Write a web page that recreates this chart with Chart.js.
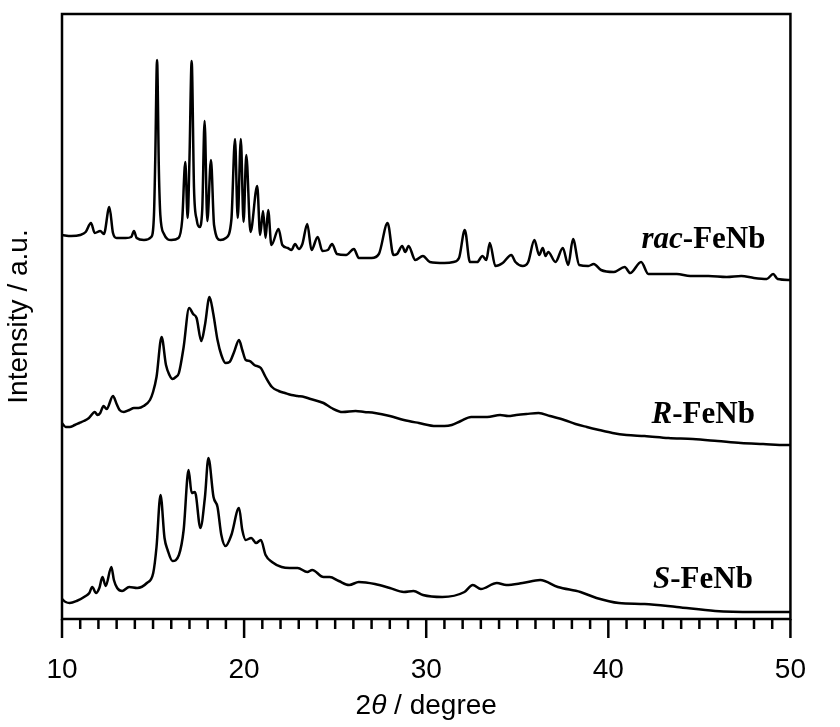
<!DOCTYPE html>
<html>
<head>
<meta charset="utf-8">
<script src="https://cdn.jsdelivr.net/npm/chart.js@4.4.0/dist/chart.umd.min.js"></script>
<style>
  html, body { margin: 0; padding: 0; background: #fff; }
  #wrap { width: 840px; height: 727px; }
</style>
</head>
<body>
<div id="wrap"><canvas id="xrdChart" width="840" height="727"></canvas></div>
<script>
// XRD patterns, values (arbitrary units, curves already stacked)
const xTicks = [10, 20, 30, 40, 50];

const racTheta = [10.0, 10.5, 11.0, 11.3, 11.59, 11.8, 12.1, 12.3, 12.6, 12.8, 13.0, 13.5, 13.8, 13.95, 14.1, 14.5, 14.9, 15.05, 15.12, 15.22, 15.32, 15.4, 15.6, 16.0, 16.4, 16.6, 16.77, 16.9, 17.0, 17.12, 17.25, 17.4, 17.55, 17.7, 17.83, 17.98, 18.18, 18.35, 18.7, 19.0, 19.3, 19.5, 19.65, 19.82, 19.97, 20.12, 20.35, 20.72, 20.88, 21.04, 21.18, 21.32, 21.5, 21.89, 22.1, 22.4, 22.6, 22.8, 23.0, 23.2, 23.47, 23.7, 24.04, 24.3, 24.6, 24.83, 25.1, 25.6, 26.03, 26.3, 27.0, 27.4, 27.88, 28.2, 28.4, 28.68, 28.85, 29.03, 29.4, 29.82, 30.2, 31.0, 31.5, 31.8, 32.12, 32.4, 32.8, 33.09, 33.3, 33.49, 33.8, 34.2, 34.67, 34.9, 35.3, 35.6, 35.94, 36.2, 36.4, 36.55, 36.7, 37.1, 37.5, 37.8, 38.06, 38.4, 38.9, 39.2, 39.6, 40.3, 40.9, 41.2, 41.8, 42.2, 43.0, 43.76, 44.5, 45.5, 46.5, 47.3, 48.0, 48.7, 49.05, 49.3, 50.0];
const racIntensity = [384, 383, 384, 387, 396, 386, 388, 385, 412, 386, 381, 381, 382, 388, 381, 379, 382, 404, 459, 559, 449, 404, 385, 379, 381, 399, 457, 401, 460, 558, 430, 399, 392, 409, 498, 398, 459, 394, 379, 381, 399, 480, 401, 480, 397, 464, 387, 433, 384, 408, 381, 409, 374, 390, 374, 371, 369, 375, 370, 375, 395, 369, 382, 368, 369, 375, 365, 364, 370, 361, 361, 365, 396, 364, 365, 373, 367, 373, 359, 363, 357, 356, 357, 361, 389, 357, 357, 363, 359, 376, 353, 356, 364, 357, 353, 357, 379, 364, 371, 363, 367, 357, 371, 354, 380, 354, 353, 355, 349, 347, 352, 346, 357, 345, 345, 345, 343, 343, 342, 343, 341, 340, 345, 340, 339];

const rTheta = [10.0, 10.2, 10.42, 10.7, 10.95, 11.2, 11.48, 11.8, 11.95, 12.1, 12.28, 12.45, 12.8, 13.0, 13.16, 13.4, 13.7, 13.95, 14.2, 14.48, 14.83, 15.0, 15.19, 15.47, 15.71, 15.9, 16.07, 16.25, 16.42, 16.68, 16.98, 17.2, 17.39, 17.65, 17.85, 18.1, 18.3, 18.54, 18.75, 18.98, 19.2, 19.45, 19.72, 19.9, 20.09, 20.3, 20.56, 20.92, 21.18, 21.53, 21.9, 22.24, 22.6, 22.94, 23.3, 23.65, 24.36, 24.8, 25.41, 26.12, 26.6, 27.18, 28.0, 28.77, 29.6, 30.53, 31.0, 31.4, 31.9, 32.47, 32.9, 33.35, 34.06, 34.5, 34.94, 35.5, 36.17, 36.8, 37.58, 38.2, 38.82, 39.5, 40.23, 41.0, 41.99, 43.3, 44.64, 46.0, 47.28, 48.5, 49.75, 50.0];
const rIntensity = [196, 192, 192, 194, 196, 198, 201, 207, 204, 206, 213, 210, 223, 215, 209, 207, 209, 211, 211, 213, 219, 227, 242, 282, 254, 244, 240, 242, 246, 272, 311, 305, 301, 278, 294, 322, 306, 279, 264, 256, 257, 267, 279, 269, 259, 258, 254, 251, 242, 232, 228, 226, 224, 223, 222, 220, 216, 211, 207, 208, 207, 206, 203, 199, 196, 193, 193, 194, 198, 202, 202, 202, 204, 203, 204, 205, 206, 203, 199, 195, 192, 189, 186, 184, 183, 181, 180, 178, 176, 175, 174, 174];

const sTheta = [10.0, 10.2, 10.42, 10.8, 11.3, 11.5, 11.66, 11.87, 12.05, 12.22, 12.4, 12.71, 12.85, 13.03, 13.3, 13.69, 14.13, 14.66, 15.01, 15.19, 15.41, 15.63, 15.8, 16.07, 16.42, 16.68, 16.95, 17.12, 17.3, 17.6, 17.85, 18.04, 18.32, 18.54, 18.75, 18.98, 19.3, 19.72, 19.9, 20.09, 20.39, 20.66, 20.92, 21.18, 21.53, 22.06, 22.5, 22.94, 23.47, 23.74, 24.36, 24.7, 25.2, 25.77, 26.3, 27.18, 28.0, 28.77, 29.3, 29.82, 30.88, 32.1, 32.56, 33.0, 33.88, 34.4, 35.29, 36.26, 37.23, 38.47, 39.35, 40.58, 41.99, 43.76, 45.87, 47.99, 49.75, 50.0];
const sIntensity = [20, 17, 16, 18, 23, 26, 32, 26, 31, 42, 33, 52, 39, 31, 28, 32, 31, 36, 46, 72, 124, 81, 69, 58, 64, 89, 149, 126, 127, 91, 122, 161, 122, 112, 84, 73, 84, 111, 89, 79, 81, 76, 79, 64, 57, 52, 51, 51, 47, 49, 42, 42, 38, 34, 37, 35, 31, 27, 28, 24, 22, 27, 34, 30, 36, 34, 36, 39, 32, 27, 21, 16, 15, 12, 8, 7, 7, 7];

const seriesNames = [['rac', '-FeNb'], ['R', '-FeNb'], ['S', '-FeNb']];

const sansFont = '"Liberation Sans", Arial, sans-serif';
const serifFont = '"Liberation Serif", "Times New Roman", serif';

function toPoints(xs, ys) {
  return xs.map((x, i) => ({ x: x, y: ys[i] }));
}

// frame, minor/major ticks, x title with italic theta, curve labels
const decorations = {
  id: 'decorations',
  afterDraw(chart) {
    const { ctx, chartArea: a, scales: { x, y } } = chart;
    ctx.save();
    ctx.strokeStyle = '#000';
    ctx.lineWidth = 2.5;
    ctx.strokeRect(a.left, a.top, a.right - a.left, a.bottom - a.top);

    for (let v = x.min; v <= x.max; v++) {
      const px = x.getPixelForValue(v);
      const len = xTicks.includes(v) ? 19 : 10;
      ctx.beginPath();
      ctx.moveTo(px, a.bottom);
      ctx.lineTo(px, a.bottom + len);
      ctx.stroke();
    }

    // x axis title: 2θ / degree
    ctx.fillStyle = '#000';
    ctx.textBaseline = 'alphabetic';
    ctx.textAlign = 'left';
    const parts = [['2', ''], ['θ', 'italic '], [' / degree', '']];
    let total = 0;
    parts.forEach(p => {
      ctx.font = p[1] + '28px ' + sansFont;
      total += ctx.measureText(p[0]).width;
    });
    let cx = (a.left + a.right) / 2 - total / 2;
    parts.forEach(p => {
      ctx.font = p[1] + '28px ' + sansFont;
      ctx.fillText(p[0], cx, 714);
      cx += ctx.measureText(p[0]).width;
    });

    // curve labels, right aligned
    const anchors = [[48.63, 371], [48.05, 196], [47.94, 31]];
    seriesNames.forEach((name, i) => {
      const right = x.getPixelForValue(anchors[i][0]);
      const base = y.getPixelForValue(anchors[i][1]);
      ctx.font = 'italic bold 31px ' + serifFont;
      const w1 = ctx.measureText(name[0]).width;
      ctx.font = 'bold 31px ' + serifFont;
      const w2 = ctx.measureText(name[1]).width;
      ctx.font = 'italic bold 31px ' + serifFont;
      ctx.fillText(name[0], right - w1 - w2, base);
      ctx.font = 'bold 31px ' + serifFont;
      ctx.fillText(name[1], right - w2, base);
    });
    ctx.restore();
  }
};

const lineStyle = {
  borderColor: '#000',
  borderWidth: 2.5,
  pointRadius: 0,
  fill: false,
  cubicInterpolationMode: 'monotone'
};

new Chart(document.getElementById('xrdChart'), {
  type: 'line',
  data: {
    datasets: [
      Object.assign({ label: 'rac-FeNb', data: toPoints(racTheta, racIntensity) }, lineStyle),
      Object.assign({ label: 'R-FeNb', data: toPoints(rTheta, rIntensity) }, lineStyle),
      Object.assign({ label: 'S-FeNb', data: toPoints(sTheta, sIntensity) }, lineStyle)
    ]
  },
  options: {
    responsive: false,
    animation: false,
    layout: { padding: { top: 14, right: 21, left: 0, bottom: 0 } },
    plugins: { legend: { display: false }, tooltip: { enabled: false } },
    scales: {
      x: {
        type: 'linear',
        min: 10,
        max: 50,
        afterBuildTicks: scale => { scale.ticks = xTicks.map(v => ({ value: v })); },
        afterFit: scale => { scale.height = 108; },
        grid: { display: false, drawTicks: false },
        border: { display: false },
        ticks: { color: '#000', padding: 34, font: { family: sansFont, size: 28 } }
      },
      y: {
        min: 0,
        max: 605,
        afterFit: scale => { scale.width = 62; },
        grid: { display: false, drawTicks: false },
        border: { display: false },
        ticks: { display: false },
        title: {
          display: true,
          text: 'Intensity / a.u.',
          color: '#000',
          padding: { top: 2, bottom: 0 },
          font: { family: sansFont, size: 28 }
        }
      }
    }
  },
  plugins: [decorations]
});
</script>
</body>
</html>
